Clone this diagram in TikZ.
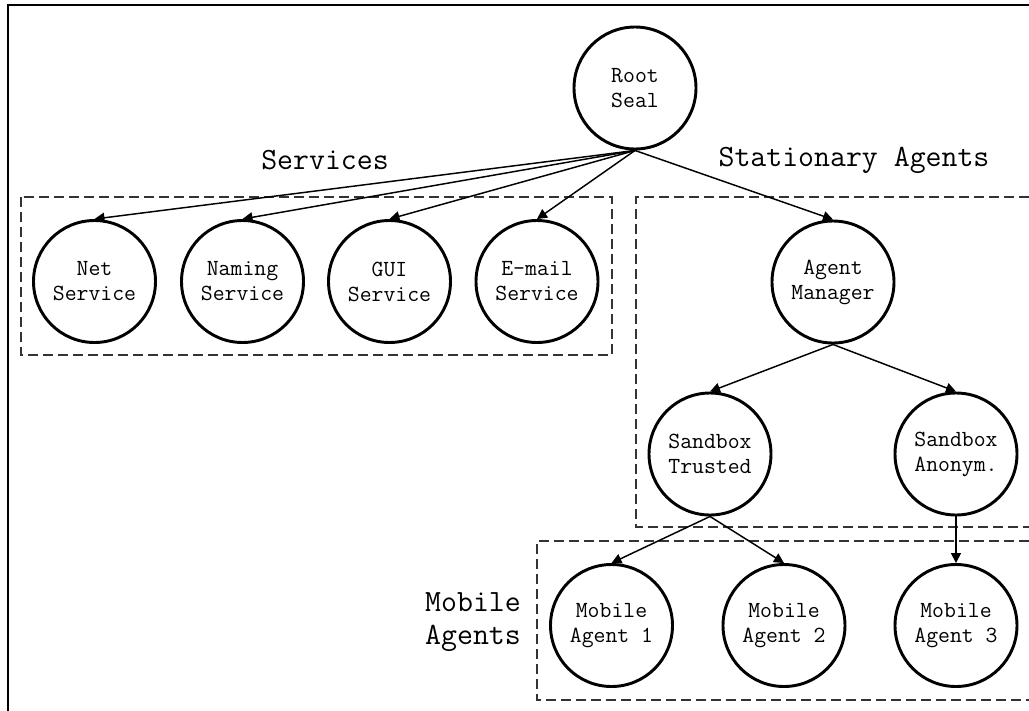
\documentclass[tikz,border=0pt]{standalone}
\usepackage{fontspec}
\usetikzlibrary{arrows.meta}
\tikzset{
  ag/.style={circle, draw, line width=2.2pt, minimum size=91.5pt, inner sep=0pt, align=center,
    font=\ttfamily\fontsize{17.3}{18.75}\selectfont},
  grp/.style={draw=black!80, line width=0.9pt, dash pattern=on 7.5pt off 3.75pt},
  lbl/.style={font=\ttfamily\fontsize{23.2}{25}\selectfont, inner sep=0pt},
  conn/.style={line width=1.1pt, -{Triangle[length=7.5pt,width=7.5pt]}},
  frm/.style={line width=1.6pt}
}
\begin{document}
\begin{tikzpicture}[x=0.75pt,y=-0.75pt]
\useasboundingbox (0,0) rectangle (1029,711);
% frame
\draw[frm] (8,711) -- (8,5) -- (1029,5);
% groups
\draw[grp] (21,197) rectangle (612,355);
\draw[grp] (1029,197) -- (636,197) -- (636,527) -- (1029,527);
\draw[grp] (1029,541) -- (537,541) -- (537,700) -- (1029,700);
% labels
\node[lbl] (services) at (325,160) {Services};
\node[lbl] (stationary) at (854,160) {Stationary Agents};
\node[lbl, align=right] (mobile) at (473,622) {Mobile\\Agents};
% nodes
\node[ag] (root) at (635,88) {Root\\Seal};
\node[ag] (net) at (94.5,281.5) {Net\\Service};
\node[ag] (naming) at (242.5,281.5) {Naming\\Service};
\node[ag] (gui) at (389.5,281.5) {GUI\\Service};
\node[ag] (email) at (537,281.5) {E-mail\\Service};
\node[ag] (mgr) at (833,282) {Agent\\Manager};
\node[ag] (trusted) at (710,454) {Sandbox\\Trusted};
\node[ag] (anon) at (956,454) {Sandbox\\Anonym.};
\node[ag] (m1) at (611.5,625.5) {Mobile\\Agent 1};
\node[ag] (m2) at (784,625.5) {Mobile\\Agent 2};
\node[ag] (m3) at (956,625.5) {Mobile\\Agent 3};
% connectors
\draw[conn] (root.south) -- (net.north);
\draw[conn] (root.south) -- (naming.north);
\draw[conn] (root.south) -- (gui.north);
\draw[conn] (root.south) -- (email.north);
\draw[conn] (root.south) -- (mgr.north);
\draw[conn] (mgr.south) -- (trusted.north);
\draw[conn] (mgr.south) -- (anon.north);
\draw[conn] (trusted.south) -- (m1.north);
\draw[conn] (trusted.south) -- (m2.north);
\draw[conn] (anon.south) -- (m3.north);
\end{tikzpicture}
\end{document}
